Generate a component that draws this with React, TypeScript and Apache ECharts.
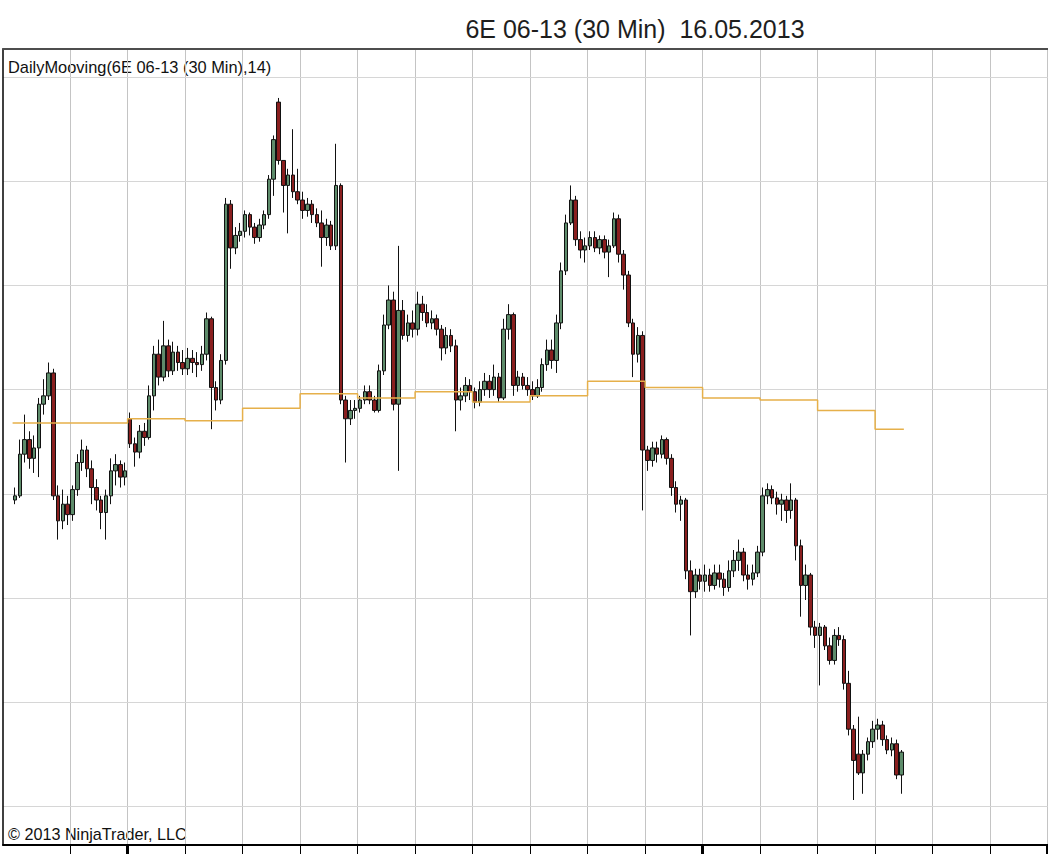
import React, { useEffect, useRef } from "react";
import * as echarts from "echarts";

const chartTitle = "6E 06-13 (30 Min)  16.05.2013";
const indicatorLabel = "DailyMooving(6E 06-13 (30 Min),14)";
const copyrightLabel = "© 2013 NinjaTrader, LLC";

// sessions shown (dd.mm, 2013); the last one is partial
const sessionDates = [
  "25.04", "26.04", "29.04", "30.04", "01.05", "02.05", "03.05", "06.05",
  "07.05", "08.05", "09.05", "10.05", "13.05", "14.05", "15.05", "16.05",
];
const barsPerSession = 12;
const leadingSlots = 2;
const totalSlots = 218;
const weekStartSessions = [2, 12];

const opens = [
  1.2997, 1.2999, 1.3019, 1.3026, 1.3017, 1.3022, 1.3043, 1.3047, 1.3058, 1.2999, 1.2987, 1.2995,
  1.2990, 1.3002, 1.3015, 1.3021, 1.3012, 1.3003, 1.2997, 1.2991, 1.2999, 1.3011, 1.3014, 1.3008,
  1.3036, 1.3024, 1.3020, 1.3030, 1.3027, 1.3047, 1.3067, 1.3056, 1.3071, 1.3059, 1.3068, 1.3063,
  1.3060, 1.3065, 1.3063, 1.3062, 1.3067, 1.3084, 1.3051, 1.3045, 1.3064, 1.3139, 1.3118, 1.3124,
  1.3126, 1.3134, 1.3128, 1.3123, 1.3129, 1.3134, 1.3151, 1.3188, 1.3160, 1.3148, 1.3153, 1.3145,
  1.3141, 1.3136, 1.3139, 1.3134, 1.3130, 1.3123, 1.3129, 1.3119, 1.3148, 1.3045, 1.3036, 1.3040,
  1.3041, 1.3045, 1.3049, 1.3045, 1.3040, 1.3059, 1.3081, 1.3093, 1.3043, 1.3088, 1.3076, 1.3082,
  1.3079, 1.3091, 1.3087, 1.3082, 1.3084, 1.3079, 1.3070, 1.3076, 1.3071, 1.3045, 1.3047, 1.3052,
  1.3049, 1.3044, 1.3050, 1.3054, 1.3050, 1.3056, 1.3046, 1.3079, 1.3086, 1.3052, 1.3056, 1.3052,
  1.3050, 1.3047, 1.3051, 1.3062, 1.3069, 1.3064, 1.3082, 1.3107, 1.3130, 1.3141, 1.3122, 1.3117,
  1.3119, 1.3123, 1.3118, 1.3122, 1.3116, 1.3119, 1.3132, 1.3115, 1.3105, 1.3082, 1.3067, 1.3076,
  1.3021, 1.3016, 1.3022, 1.3019, 1.3026, 1.3017, 1.3003, 1.2995, 1.2997, 1.2963, 1.2953, 1.2961,
  1.2958, 1.2961, 1.2956, 1.2962, 1.2959, 1.2955, 1.2963, 1.2968, 1.2972, 1.2961, 1.2959, 1.2962,
  1.2972, 1.2999, 1.3002, 1.2998, 1.2995, 1.2997, 1.2992, 1.2997, 1.2975, 1.2956, 1.2961, 1.2936,
  1.2932, 1.2936, 1.2927, 1.2920, 1.2932, 1.2930, 1.2909, 1.2887, 1.2875, 1.2866, 1.2875, 1.2881,
  1.2887, 1.2889, 1.2882, 1.2877, 1.2880, 1.2865,
];
const closes = [
  1.2999, 1.3019, 1.3026, 1.3017, 1.3022, 1.3043, 1.3047, 1.3058, 1.2999, 1.2987, 1.2995, 1.2990,
  1.3002, 1.3015, 1.3021, 1.3012, 1.3003, 1.2997, 1.2991, 1.2999, 1.3011, 1.3014, 1.3008, 1.3011,
  1.3024, 1.3020, 1.3030, 1.3027, 1.3047, 1.3067, 1.3056, 1.3071, 1.3059, 1.3068, 1.3063, 1.3060,
  1.3065, 1.3063, 1.3062, 1.3067, 1.3084, 1.3051, 1.3045, 1.3064, 1.3139, 1.3118, 1.3124, 1.3126,
  1.3134, 1.3128, 1.3123, 1.3129, 1.3134, 1.3151, 1.3170, 1.3160, 1.3148, 1.3153, 1.3145, 1.3141,
  1.3136, 1.3139, 1.3134, 1.3130, 1.3123, 1.3129, 1.3119, 1.3148, 1.3045, 1.3036, 1.3040, 1.3041,
  1.3045, 1.3049, 1.3045, 1.3040, 1.3059, 1.3081, 1.3093, 1.3043, 1.3088, 1.3076, 1.3082, 1.3079,
  1.3091, 1.3087, 1.3082, 1.3084, 1.3079, 1.3070, 1.3076, 1.3071, 1.3045, 1.3047, 1.3052, 1.3049,
  1.3044, 1.3050, 1.3054, 1.3050, 1.3056, 1.3046, 1.3079, 1.3086, 1.3052, 1.3056, 1.3052, 1.3050,
  1.3047, 1.3051, 1.3062, 1.3069, 1.3064, 1.3082, 1.3107, 1.3130, 1.3141, 1.3122, 1.3117, 1.3119,
  1.3123, 1.3118, 1.3122, 1.3116, 1.3119, 1.3132, 1.3115, 1.3105, 1.3082, 1.3067, 1.3076, 1.3021,
  1.3016, 1.3022, 1.3019, 1.3026, 1.3017, 1.3003, 1.2995, 1.2997, 1.2963, 1.2953, 1.2961, 1.2958,
  1.2961, 1.2956, 1.2962, 1.2959, 1.2955, 1.2963, 1.2968, 1.2972, 1.2961, 1.2959, 1.2962, 1.2972,
  1.2999, 1.3002, 1.2998, 1.2995, 1.2997, 1.2992, 1.2997, 1.2975, 1.2956, 1.2961, 1.2936, 1.2932,
  1.2936, 1.2927, 1.2920, 1.2932, 1.2930, 1.2909, 1.2887, 1.2872, 1.2866, 1.2875, 1.2881, 1.2887,
  1.2889, 1.2882, 1.2877, 1.2880, 1.2865, 1.2876,
];
const lows = [
  1.2995, 1.2998, 1.3015, 1.3012, 1.3010, 1.3008, 1.3038, 1.3045, 1.2997, 1.2978, 1.2983, 1.2985,
  1.2987, 1.2999, 1.3011, 1.3008, 1.2995, 1.2992, 1.2983, 1.2978, 1.2995, 1.3004, 1.3003, 1.3004,
  1.3022, 1.3013, 1.3017, 1.3023, 1.3026, 1.3040, 1.3052, 1.3054, 1.3056, 1.3057, 1.3059, 1.3057,
  1.3057, 1.3058, 1.3056, 1.3059, 1.3064, 1.3031, 1.3040, 1.3043, 1.3062, 1.3108, 1.3115, 1.3121,
  1.3123, 1.3124, 1.3120, 1.3121, 1.3127, 1.3132, 1.3143, 1.3158, 1.3135, 1.3125, 1.3142, 1.3139,
  1.3132, 1.3133, 1.3130, 1.3128, 1.3109, 1.3119, 1.3117, 1.3117, 1.3043, 1.3015, 1.3033, 1.3036,
  1.3039, 1.3043, 1.3043, 1.3039, 1.3039, 1.3057, 1.3079, 1.3040, 1.3011, 1.3074, 1.3073, 1.3075,
  1.3076, 1.3083, 1.3080, 1.3079, 1.3076, 1.3064, 1.3067, 1.3068, 1.3030, 1.3040, 1.3044, 1.3045,
  1.3041, 1.3042, 1.3047, 1.3046, 1.3047, 1.3044, 1.3045, 1.3074, 1.3047, 1.3049, 1.3050, 1.3047,
  1.3045, 1.3046, 1.3049, 1.3059, 1.3060, 1.3058, 1.3079, 1.3105, 1.3129, 1.3119, 1.3113, 1.3111,
  1.3117, 1.3116, 1.3115, 1.3113, 1.3104, 1.3118, 1.3111, 1.3098, 1.3080, 1.3056, 1.3063, 1.2992,
  1.3011, 1.3013, 1.3015, 1.3017, 1.3014, 1.2999, 1.2991, 1.2987, 1.2959, 1.2932, 1.2950, 1.2954,
  1.2953, 1.2953, 1.2954, 1.2955, 1.2951, 1.2953, 1.2960, 1.2963, 1.2958, 1.2954, 1.2956, 1.2960,
  1.2970, 1.2995, 1.2995, 1.2990, 1.2987, 1.2986, 1.2988, 1.2968, 1.2941, 1.2949, 1.2932, 1.2926,
  1.2908, 1.2925, 1.2918, 1.2918, 1.2927, 1.2906, 1.2884, 1.2853, 1.2865, 1.2856, 1.2872, 1.2878,
  1.2882, 1.2879, 1.2875, 1.2874, 1.2863, 1.2856,
];
const highs = [
  1.3003, 1.3026, 1.3038, 1.3030, 1.3028, 1.3046, 1.3055, 1.3063, 1.3060, 1.3004, 1.3002, 1.2999,
  1.3004, 1.3019, 1.3026, 1.3023, 1.3016, 1.3007, 1.2999, 1.3002, 1.3017, 1.3019, 1.3016, 1.3015,
  1.3039, 1.3027, 1.3033, 1.3034, 1.3052, 1.3071, 1.3074, 1.3083, 1.3074, 1.3073, 1.3071, 1.3069,
  1.3070, 1.3069, 1.3068, 1.3071, 1.3087, 1.3085, 1.3054, 1.3067, 1.3142, 1.3141, 1.3128, 1.3130,
  1.3136, 1.3135, 1.3130, 1.3132, 1.3136, 1.3153, 1.3172, 1.3190, 1.3160, 1.3156, 1.3175, 1.3156,
  1.3145, 1.3142, 1.3141, 1.3137, 1.3136, 1.3132, 1.3131, 1.3168, 1.3149, 1.3047, 1.3045, 1.3045,
  1.3047, 1.3052, 1.3052, 1.3047, 1.3062, 1.3086, 1.3100, 1.3097, 1.3119, 1.3093, 1.3086, 1.3088,
  1.3097, 1.3095, 1.3091, 1.3088, 1.3086, 1.3081, 1.3080, 1.3079, 1.3074, 1.3051, 1.3056, 1.3055,
  1.3051, 1.3054, 1.3058, 1.3057, 1.3062, 1.3058, 1.3084, 1.3091, 1.3087, 1.3059, 1.3058, 1.3056,
  1.3054, 1.3055, 1.3065, 1.3074, 1.3074, 1.3086, 1.3111, 1.3134, 1.3148, 1.3143, 1.3126, 1.3123,
  1.3126, 1.3126, 1.3124, 1.3124, 1.3122, 1.3135, 1.3134, 1.3117, 1.3107, 1.3084, 1.3080, 1.3078,
  1.3023, 1.3025, 1.3025, 1.3028, 1.3027, 1.3019, 1.3006, 1.2999, 1.2998, 1.2968, 1.2964, 1.2964,
  1.2966, 1.2964, 1.2966, 1.2966, 1.2962, 1.2968, 1.2973, 1.2978, 1.2974, 1.2966, 1.2966, 1.2975,
  1.3003, 1.3005, 1.3004, 1.3001, 1.3000, 1.2999, 1.3005, 1.2998, 1.2978, 1.2966, 1.2962, 1.2939,
  1.2938, 1.2937, 1.2931, 1.2935, 1.2936, 1.2932, 1.2915, 1.2889, 1.2893, 1.2877, 1.2883, 1.2891,
  1.2892, 1.2891, 1.2884, 1.2883, 1.2882, 1.2877,
];

// DailyMooving(14) value for each session
const dailyMooving = [
  1.3034, 1.3034, 1.3036, 1.3035, 1.3041, 1.3048, 1.3046, 1.3049,
  1.3044, 1.3047, 1.3054, 1.3051, 1.3046, 1.3045, 1.3040, 1.3031,
];

const priceGridLevels = [1.285, 1.29, 1.295, 1.3, 1.305, 1.31, 1.315, 1.32];
const priceMin = 1.28314;
const priceMax = 1.32135;

export default function App() {
  const ref = useRef<HTMLDivElement>(null);

  useEffect(() => {
    if (!ref.current) return;
    const chart = echarts.init(ref.current, null, { renderer: "svg" });

    const categories: string[] = [];
    const candleData: any[] = [];
    const movingData: any[] = [];
    for (let i = 0; i < totalSlots; i++) {
      const b = i - leadingSlots;
      const s = Math.floor(b / barsPerSession);
      if (b >= 0 && b < opens.length) {
        categories.push(`${sessionDates[s]}.2013 #${(b % barsPerSession) + 1}`);
        candleData.push([opens[b], closes[b], lows[b], highs[b]]);
        movingData.push(dailyMooving[s]);
      } else {
        categories.push(`slot ${i}`);
        candleData.push("-");
        movingData.push("-");
      }
    }

    const isSessionStart = (idx: number) =>
      idx >= leadingSlots + barsPerSession && (idx - leadingSlots) % barsPerSession === 0;
    const isWeekStart = (idx: number) =>
      weekStartSessions.some((s) => idx === leadingSlots + s * barsPerSession);

    const font = '"Liberation Sans", Arial, sans-serif';

    chart.setOption({
      animation: false,
      backgroundColor: "#ffffff",
      grid: { left: 3, right: 0.4, top: 49, bottom: 9, containLabel: false },
      xAxis: [
        {
          type: "category",
          data: categories,
          boundaryGap: true,
          axisLine: { show: true, onZero: false, lineStyle: { color: "#000", width: 2 } },
          axisTick: {
            show: true,
            interval: (idx: number) => isSessionStart(idx),
            length: 9,
            lineStyle: { color: "#000", width: 1 },
          },
          axisLabel: { show: false },
          splitLine: {
            show: true,
            interval: (idx: number) => isSessionStart(idx),
            lineStyle: { color: "#c4c4c4", width: 1 },
          },
        },
        {
          type: "category",
          data: categories,
          position: "top",
          axisLine: { show: true, onZero: false, lineStyle: { color: "#4d4d4d", width: 2 } },
          axisTick: { show: false },
          axisLabel: { show: false },
          splitLine: { show: false },
        },
        {
          type: "category",
          data: categories,
          position: "bottom",
          axisLine: { show: false },
          axisTick: {
            show: true,
            interval: (idx: number) => isWeekStart(idx),
            length: 9,
            lineStyle: { color: "#000", width: 3 },
          },
          axisLabel: { show: false },
          splitLine: { show: false },
        },
      ],
      yAxis: {
        type: "value",
        min: priceMin,
        max: priceMax,
        scale: true,
        axisLine: { show: true, onZero: false, lineStyle: { color: "#000", width: 1.5 } },
        axisTick: { show: false },
        axisLabel: { show: false },
        splitLine: { show: false },
      },
      series: [
        {
          type: "line",
          name: "grid",
          data: [],
          silent: true,
          z: 0,
          markLine: {
            silent: true,
            z: 0,
            precision: 4,
            symbol: ["none", "none"],
            label: { show: false },
            lineStyle: { color: "#d6d6d6", width: 1, type: "solid" },
            data: priceGridLevels.map((v) => ({ yAxis: v })),
          },
        },
        {
          type: "candlestick",
          name: "6E 06-13 (30 Min)",
          data: candleData,
          barWidth: 4,
          z: 3,
          itemStyle: {
            color: "#5e8c6b",
            color0: "#8a1f1f",
            borderColor: "#111",
            borderColor0: "#111",
            borderWidth: 1,
          },
        },
        {
          type: "line",
          name: "DailyMooving",
          data: movingData,
          step: "middle",
          symbol: "none",
          connectNulls: false,
          z: 4,
          lineStyle: { color: "#e6b04a", width: 1.5 },
        },
      ],
      graphic: [
        {
          type: "text",
          x: 635,
          y: 29,
          style: {
            text: chartTitle,
            fontSize: 25,
            fontFamily: font,
            fill: "#1e1e1e",
            align: "center",
            verticalAlign: "middle",
          },
        },
        {
          type: "text",
          x: 8,
          y: 67,
          style: {
            text: indicatorLabel,
            fontSize: 16.4,
            fontFamily: font,
            fill: "#111",
            align: "left",
            verticalAlign: "middle",
          },
        },
        {
          type: "text",
          x: 8,
          y: 834,
          style: {
            text: copyrightLabel,
            fontSize: 16.2,
            fontFamily: font,
            fill: "#111",
            align: "left",
            verticalAlign: "middle",
          },
        },
      ],
    });

    return () => chart.dispose();
  }, []);

  return (
    <div
      ref={ref}
      style={{ position: "fixed", left: 0, top: 0, width: 1048, height: 854, background: "#fff" }}
    />
  );
}
